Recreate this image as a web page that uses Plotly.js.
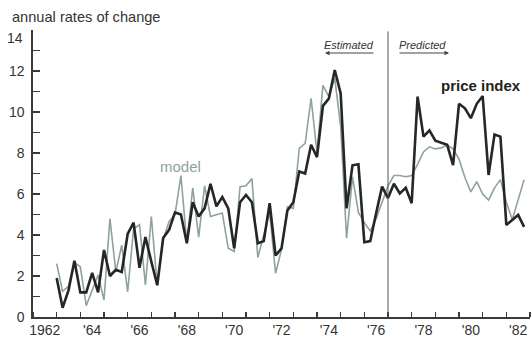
<!DOCTYPE html>
<html>
<head>
<meta charset="utf-8">
<script src="https://cdn.plot.ly/plotly-3.0.1.min.js"></script>
<style>
html,body{margin:0;padding:0;background:#fff;}
#chart{width:532px;height:337px;}
</style>
</head>
<body>
<div id="chart"></div>
<script>
// Quarterly observations, 1963 Q1 through 1982 Q4
var firstYear = 1963;
var quarterCount = 80;

// Actual price index, annual rates of change
var priceIndex = [
  1.9, 0.45, 1.3, 2.75, 1.2, 1.2, 2.15, 1.2,
  3.27, 2.0, 2.3, 2.2, 4.05, 4.6, 2.4, 3.9,
  2.7, 1.55, 3.85, 4.25, 5.1, 5.0, 3.6, 5.6,
  4.9, 5.3, 6.5, 5.4, 5.85, 5.3, 3.35, 5.6,
  5.95, 5.6, 3.6, 3.7, 5.55, 3.0, 3.35, 5.2,
  5.6, 7.1, 7.0, 8.4, 7.8, 10.3, 10.65, 12.05,
  10.9, 5.3, 7.4, 7.45, 3.65, 3.7, 5.07, 6.36,
  5.8, 6.5, 6.03, 6.3, 5.55, 10.75, 8.8, 9.1,
  8.6, 8.5, 8.4, 7.41, 10.4, 10.18, 9.7, 10.4,
  10.78, 6.93, 8.9, 8.8, 4.49, 4.73, 4.98, 4.4
];

// Model estimate / prediction
var modelValues = [
  2.6, 1.25, 1.5, 2.65, 2.45, 0.55, 1.3, 2.05,
  0.83, 4.8, 2.2, 3.5, 1.23, 4.3, 4.5, 1.56,
  4.9, 1.55, 3.8, 4.65, 5.0, 6.9, 3.6, 6.3,
  3.9, 6.4, 4.9, 5.0, 5.07, 3.35, 3.2, 6.36,
  6.4, 6.75, 2.9, 4.0, 5.1, 2.13, 3.3, 5.38,
  5.3, 8.23, 8.47, 10.67, 8.0, 11.3, 10.75, 11.65,
  9.3, 3.84, 6.84, 5.1, 4.6, 4.2, 4.8, 5.6,
  6.4, 6.9, 6.9, 6.84, 6.9, 7.45, 8.05, 8.3,
  8.2, 8.25, 8.39, 8.2, 7.7, 6.8, 6.1, 6.6,
  6.0, 5.7, 6.3, 6.7, 5.6, 4.75, 5.7, 6.7
];

// Axis labels
var xTickYears = [1962, 1964, 1966, 1968, 1970, 1972, 1974, 1976, 1978, 1980, 1982];
var xTickText = ["1962", "'64", "'66", "'68", "'70", "'72", "'74", "'76", "'78", "'80", "'82"];
var yTickVals = [0, 2, 4, 6, 8, 10, 12, 14];
var yTickText = ["0", "2", "4", "6", "8", "10", "12", ""];
var topLabel = "14";
var splitYear = 1977;

var quarters = [];
for (var i = 0; i < quarterCount; i++) quarters.push(firstYear + i * 0.25);
var xLabelPos = xTickYears.map(function (y) { return y + 0.5; });

var font = "Liberation Sans, Arial, sans-serif";
var axisColor = "#3a3a3a";

var traces = [
  {x: quarters, y: modelValues, type: "scatter", mode: "lines",
   line: {color: "#8ea29e", width: 1.6}, hoverinfo: "skip"},
  {x: quarters, y: priceIndex, type: "scatter", mode: "lines",
   line: {color: "#262626", width: 2.6}, hoverinfo: "skip"}
];

var layout = {
  width: 532, height: 337,
  margin: {l: 33, r: 2, t: 30, b: 20, pad: 0},
  paper_bgcolor: "#fff", plot_bgcolor: "#fff",
  showlegend: false,
  font: {family: font, color: "#333", size: 14},
  xaxis: {
    range: [1962, 1983], showgrid: false, zeroline: false,
    showline: true, linecolor: axisColor, linewidth: 1.6,
    tickmode: "array", tickvals: xLabelPos, ticktext: xTickText,
    ticks: "", tickfont: {family: font, size: 14, color: "#333"},
    minor: {tickmode: "linear", tick0: 1962, dtick: 1, ticks: "inside",
            ticklen: 5, tickwidth: 1.3, tickcolor: axisColor, showgrid: false},
    fixedrange: true
  },
  yaxis: {
    range: [0, 14], showgrid: false, zeroline: false,
    showline: true, linecolor: axisColor, linewidth: 1.6,
    tickmode: "array", tickvals: yTickVals, ticktext: yTickText,
    ticks: "inside", ticklen: 7, tickwidth: 1.3, tickcolor: axisColor,
    ticklabelstandoff: 4,
    minor: {tickmode: "linear", tick0: 0, dtick: 1, ticks: "inside",
            ticklen: 7, tickwidth: 1.3, tickcolor: axisColor, showgrid: false},
    tickfont: {family: font, size: 14, color: "#333"},
    fixedrange: true
  },
  shapes: [
    {type: "line", xref: "x", yref: "paper", x0: splitYear, x1: splitYear,
     y0: 0, y1: 0.995, line: {color: "#555", width: 1}}
  ],
  annotations: [
    {text: "annual rates of change", xref: "paper", yref: "paper",
     x: -0.047, y: 1.045, xanchor: "left", yanchor: "middle", showarrow: false,
     font: {family: font, size: 14.6, color: "#333"}},
    {text: topLabel, xref: "paper", yref: "paper",
     x: (25 - 33) / 497, y: (317 - 38) / 287, xanchor: "right", yanchor: "middle",
     showarrow: false, font: {family: font, size: 14, color: "#333"}},
    {text: "model", xref: "paper", yref: "paper", x: 0.296, y: 0.525,
     xanchor: "center", yanchor: "middle", showarrow: false,
     font: {family: font, size: 15, color: "#8ea29e"}},
    {text: "<b>price index</b>", xref: "paper", yref: "paper", x: 0.901, y: 0.805,
     xanchor: "center", yanchor: "middle", showarrow: false,
     font: {family: font, size: 15, color: "#222"}},
    {text: "<i>Estimated</i>", xref: "paper", yref: "paper", x: 0.636, y: 0.947,
     xanchor: "center", yanchor: "middle", showarrow: false,
     font: {family: font, size: 11, color: "#333"}},
    {text: "<i>Predicted</i>", xref: "paper", yref: "paper", x: 0.783, y: 0.947,
     xanchor: "center", yanchor: "middle", showarrow: false,
     font: {family: font, size: 11, color: "#333"}},
    {text: "", xref: "paper", yref: "paper", x: (325 - 33) / 497, y: (317 - 53) / 287,
     ax: 50, ay: 0, showarrow: true, arrowhead: 2, arrowsize: 0.9, arrowwidth: 1,
     arrowcolor: "#444"},
    {text: "", xref: "paper", yref: "paper", x: (449 - 33) / 497, y: (317 - 53) / 287,
     ax: -51, ay: 0, showarrow: true, arrowhead: 2, arrowsize: 0.9, arrowwidth: 1,
     arrowcolor: "#444"}
  ]
};

Plotly.newPlot("chart", traces, layout, {displayModeBar: false, staticPlot: true});
</script>
</body>
</html>
